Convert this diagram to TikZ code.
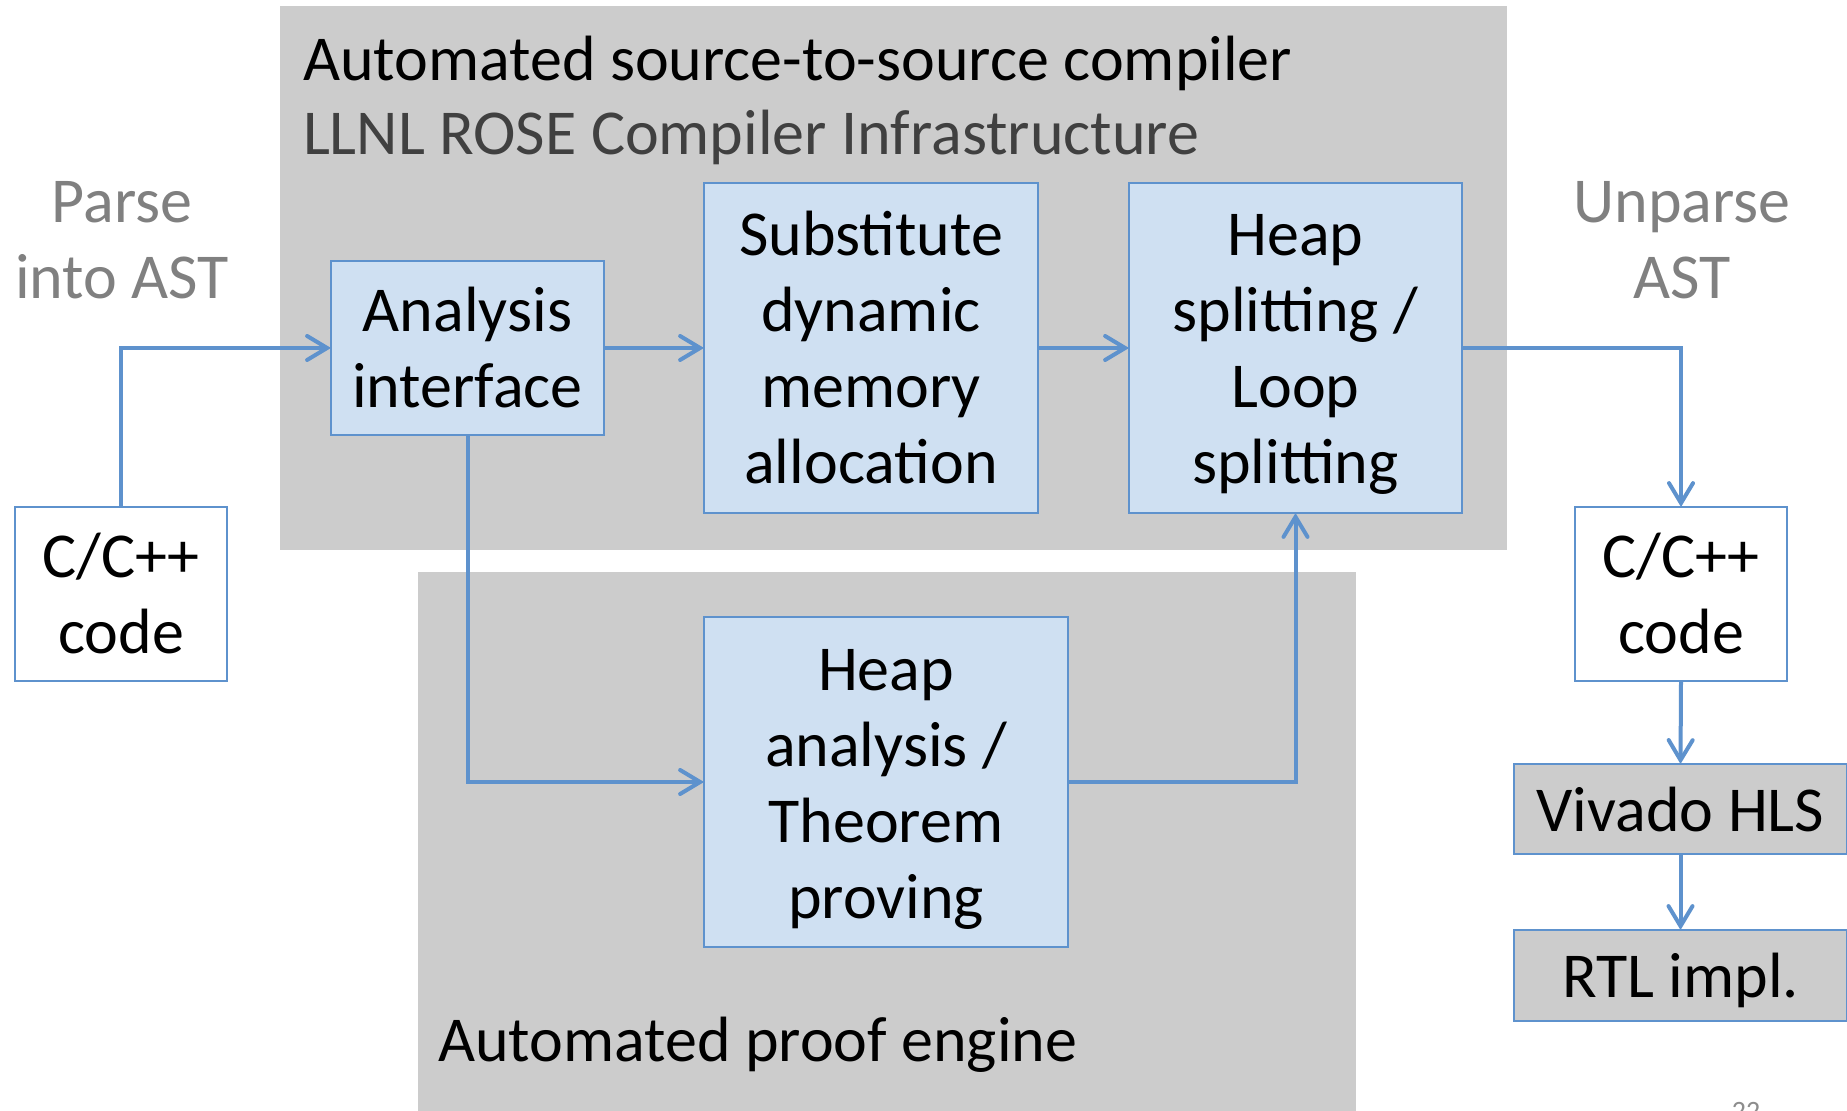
\documentclass[tikz,border=0pt]{standalone}
\usepackage{fontspec}
\setmainfont{Carlito}
\usetikzlibrary{arrows.meta}
\definecolor{grp}{RGB}{204,204,204}
\definecolor{boxfill}{RGB}{207,224,242}
\definecolor{lineblue}{RGB}{94,146,205}
\definecolor{subgray}{RGB}{64,64,64}
\definecolor{labgray}{RGB}{128,128,128}
\newcommand\ls{\rule[-8pt]{0pt}{38pt}}
\begin{document}
\begin{tikzpicture}[x=0.5pt,y=-0.5pt,
  every node/.style={inner sep=0pt, outer sep=0pt, font=\fontsize{32}{38}\selectfont},
  group/.style={fill=grp, draw=none, anchor=north west},
  procbox/.style={draw=lineblue, line width=1pt, fill=boxfill, align=center},
  codebox/.style={draw=lineblue, line width=1pt, fill=white, align=center},
  toolbox/.style={draw=lineblue, line width=1pt, fill=grp, align=center},
  conn/.style={draw=lineblue, line width=2pt, -{Straight Barb[length=10pt,width=12pt,line cap=round]}},
  lab/.style={text=labgray, align=center},
]
\useasboundingbox (0,0) rectangle (1847,1111);
\fill[white] (0,0) rectangle (1847,1111);
% group areas
\node[group, minimum width=613.5pt, minimum height=272pt] (topgrp) at (280,6) {};
\node[group, minimum width=469pt, minimum height=280pt] (botgrp) at (418,572) {};
% titles
\node[anchor=base west] (title1) at (303,81) {Automated source-to-source compiler};
\node[anchor=base west, text=subgray] (title2) at (303,155) {LLNL ROSE Compiler Infrastructure};
\node[anchor=base west] (title3) at (438,1061) {Automated proof engine};
% side labels
\node[lab] (parse) at (122,239) {\ls Parse\\into AST\ls};
\node[lab] (unparse) at (1682,239) {\ls Unparse\\AST\ls};
% process boxes
\node[procbox, minimum width=136.5pt, minimum height=87pt] (ana) at (467.5,348) {\ls Analysis\\interface\ls};
\node[procbox, minimum width=167pt, minimum height=165pt] (subst) at (871,348) {\ls Substitute\\dynamic\\memory\\allocation\ls};
\node[procbox, minimum width=166.5pt, minimum height=165pt] (hsplit) at (1295.5,348) {\ls Heap\\splitting /\\Loop\\splitting\ls};
\node[procbox, minimum width=182pt, minimum height=165pt] (hana) at (886,782) {\ls Heap\\analysis /\\Theorem\\proving\ls};
% code boxes
\node[codebox, minimum width=106pt, minimum height=87pt] (lcode) at (121,594) {\ls C/C++\\code\ls};
\node[codebox, minimum width=106pt, minimum height=87pt] (rcode) at (1681,594) {\ls C/C++\\code\ls};
% tool boxes
\node[toolbox, minimum width=166.5pt, minimum height=45pt] (vivado) at (1680.5,809) {\ls Vivado HLS};
\node[toolbox, minimum width=166.5pt, minimum height=45.5pt] (rtl) at (1680.5,975.5) {\ls RTL impl.};
% connectors
\draw[conn] (lcode.north) |- (ana.west);
\draw[conn] (ana.east) -- (subst.west);
\draw[conn] (subst.east) -- (hsplit.west);
\draw[conn] (hsplit.east) -| (rcode.north);
\draw[conn] (ana.south) |- (hana.west);
\draw[conn] (hana.east) -| (hsplit.south);
\draw[conn] (rcode.south) -- (vivado.north);
\draw[conn] (vivado.south) -- (rtl.north);
% page number (cut off at the lower edge, as in the reference)
\node[anchor=base, text=labgray!90, font=\fontsize{14}{16}\selectfont] (pgnum) at (1746,1120) {22};
\end{tikzpicture}
\end{document}
